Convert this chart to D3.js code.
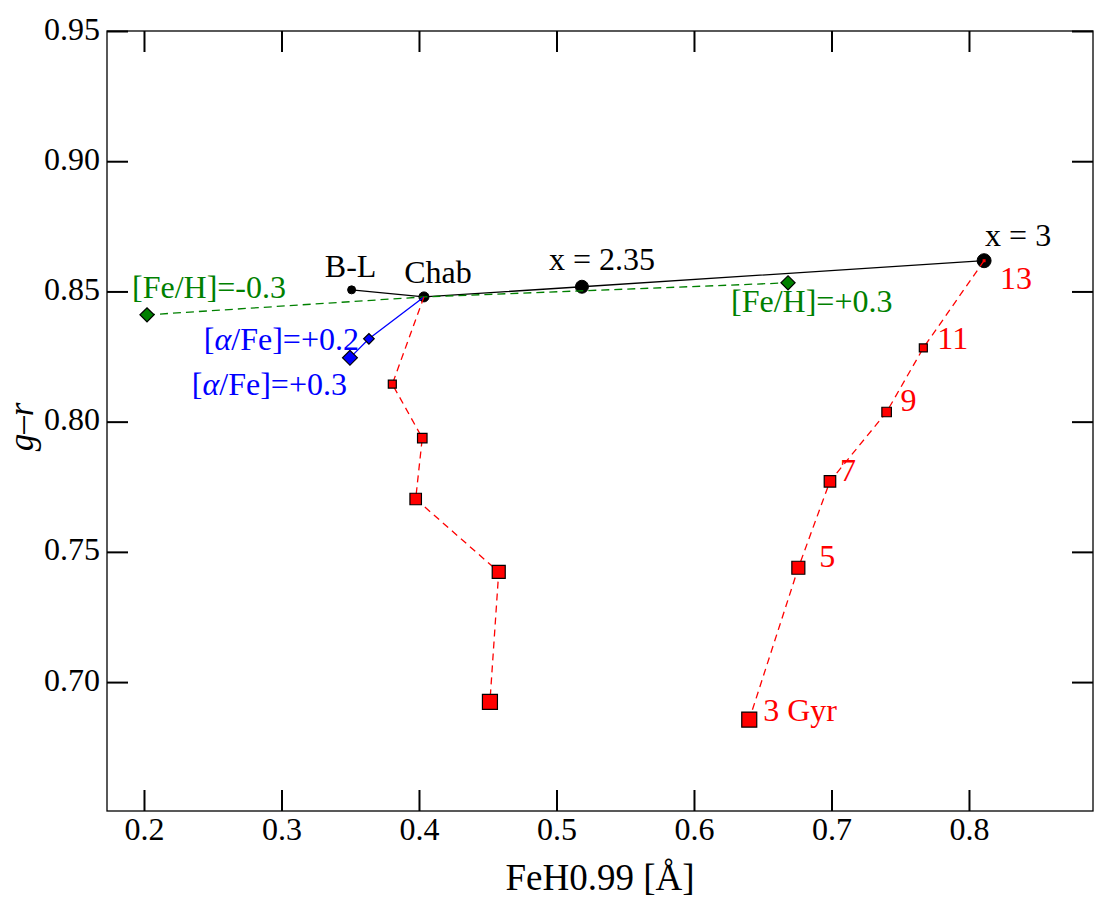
<!DOCTYPE html>
<html>
<head>
<meta charset="utf-8">
<script src="https://cdn.jsdelivr.net/npm/d3@7"></script>
<style>
  html, body { margin: 0; padding: 0; background: #fff; }
  svg { display: block; }
  svg text { font-family: "Liberation Serif", "Times New Roman", Times, serif !important; }
</style>
</head>
<body>
<svg id="chart" width="1107" height="904"></svg>
<script>
// ---------------- data ----------------
const imfLabels = ["B-L", "Chab", "x = 2.35", "x = 3"];
const imfFeH    = [0.351, 0.4036, 0.5185, 0.811];
const imfGR     = [0.8506, 0.8479, 0.8518, 0.8618];

const metLabels = ["[Fe/H]=-0.3", "Chab", "[Fe/H]=+0.3"];
const metFeH    = [0.2022, 0.4036, 0.6684];
const metGR     = [0.8410, 0.8479, 0.8533];

const alphaLabels = ["Chab", "[α/Fe]=+0.2", "[α/Fe]=+0.3"];
const alphaFeH    = [0.4036, 0.3636, 0.3498];
const alphaGR     = [0.8479, 0.8318, 0.8245];

const ages      = [13, 11, 9, 7, 5, 3];
const ageLabels = ["13", "11", "9", "7", "5", "3 Gyr"];
const chabAgeFeH = [0.4036, 0.3806, 0.4024, 0.3976, 0.4580, 0.4516];
const chabAgeGR  = [0.8479, 0.8144, 0.7937, 0.7703, 0.7423, 0.6924];
const x3AgeFeH   = [0.8110, 0.7668, 0.7401, 0.6989, 0.6759, 0.6402];
const x3AgeGR    = [0.8618, 0.8283, 0.8037, 0.7771, 0.7439, 0.6856];

const xTicks = [0.2, 0.3, 0.4, 0.5, 0.6, 0.7, 0.8];
const yTicks = [0.70, 0.75, 0.80, 0.85, 0.90, 0.95];
const xTickLabels = ["0.2", "0.3", "0.4", "0.5", "0.6", "0.7", "0.8"];
const yTickLabels = ["0.70", "0.75", "0.80", "0.85", "0.90", "0.95"];

// ---------------- layout ----------------
const L = 107, R = 1093, T = 31, B = 811;
const svg = d3.select("#chart");
const x = d3.scaleLinear().domain([0.1731, 0.8902]).range([L, R]);
const y = d3.scaleLinear().domain([0.6505, 0.95]).range([B, T]);

const fontTick = 32, fontAnn = 32, fontLab = 37;

// ---------------- axes ----------------
function styleAxis(g) {
  g.select(".domain").remove();
  g.attr("font-family", null);
  g.selectAll(".tick line").attr("stroke", "#000").attr("stroke-width", 2);
}
const gxB = svg.append("g").attr("transform", `translate(0,${B})`)
  .call(d3.axisBottom(x).tickValues(xTicks).tickSizeInner(-21).tickSizeOuter(0)
        .tickFormat((d, i) => xTickLabels[i]));
styleAxis(gxB);
gxB.selectAll(".tick text").attr("y", 29).attr("dy", 0)
  .attr("font-size", fontTick).attr("fill", "#000");

const gxT = svg.append("g").attr("transform", `translate(0,${T})`)
  .call(d3.axisTop(x).tickValues(xTicks).tickSizeInner(-21).tickSizeOuter(0).tickFormat(""));
styleAxis(gxT);

const gyL = svg.append("g").attr("transform", `translate(${L},0)`)
  .call(d3.axisLeft(y).tickValues(yTicks).tickSizeInner(-21).tickSizeOuter(0)
        .tickFormat((d, i) => yTickLabels[i]));
styleAxis(gyL);
gyL.selectAll(".tick text").attr("x", -7).attr("dy", 0).attr("y", 8)
  .attr("font-size", fontTick).attr("fill", "#000");

const gyR = svg.append("g").attr("transform", `translate(${R},0)`)
  .call(d3.axisRight(y).tickValues(yTicks).tickSizeInner(-21).tickSizeOuter(0).tickFormat(""));
styleAxis(gyR);

svg.append("rect").attr("x", L).attr("y", T).attr("width", R - L).attr("height", B - T)
  .attr("fill", "none").attr("stroke", "#000").attr("stroke-width", 1.3);

// axis labels
svg.append("text").attr("x", (L + R) / 2).attr("y", 890).attr("text-anchor", "middle")
  .attr("font-size", fontLab).text("FeH0.99 [Å]");
const yl = svg.append("text").attr("transform", `translate(33,427) rotate(-90)`)
  .attr("text-anchor", "middle").attr("font-size", 35);
yl.append("tspan").attr("font-style", "italic").text("g");
yl.append("tspan").text("–");
yl.append("tspan").attr("font-style", "italic").text("r");

// ---------------- helpers ----------------
const line = d3.line().x(d => x(d[0])).y(d => y(d[1]));
const zip = (a, b) => a.map((v, i) => [v, b[i]]);
const plot = svg.append("g");

function drawLine(pts, color, dash, w) {
  plot.append("path").attr("d", line(pts)).attr("fill", "none")
    .attr("stroke", color).attr("stroke-width", w || 1.3)
    .attr("stroke-dasharray", dash || null);
}
function square(px, py, s, fill) {
  plot.append("path").attr("d", d3.symbol(d3.symbolSquare, s * s)())
    .attr("transform", `translate(${x(px)},${y(py)})`)
    .attr("fill", fill).attr("stroke", "#000").attr("stroke-width", 1.2);
}
function diamond(px, py, s, fill) {
  plot.append("path").attr("d", d3.symbol(d3.symbolSquare, s * s)())
    .attr("transform", `translate(${x(px)},${y(py)}) rotate(45)`)
    .attr("fill", fill).attr("stroke", "#000").attr("stroke-width", 1.2);
}
function circle(px, py, r) {
  plot.append("circle").attr("cx", x(px)).attr("cy", y(py)).attr("r", r)
    .attr("fill", "#000").attr("stroke", "#000").attr("stroke-width", 1);
}
function label(px, py, dx, dy, txt, color, anchor) {
  const t = plot.append("text").attr("x", x(px) + dx).attr("y", y(py) + dy)
    .attr("fill", color).attr("font-size", fontAnn).attr("text-anchor", anchor || "start");
  if (txt.includes("α")) {
    const parts = txt.split("α");
    t.append("tspan").text(parts[0]);
    t.append("tspan").attr("font-style", "italic").text("α");
    t.append("tspan").text(parts[1]);
  } else t.text(txt);
}

// ---------------- IMF sequence (black) ----------------
drawLine(zip(imfFeH, imfGR), "#000", null, 1.3);
const imfR = [4, 5, 6.5, 7];
imfFeH.forEach((v, i) => circle(v, imfGR[i], imfR[i]));

// ---------------- metallicity (green dashed) ----------------
drawLine(zip(metFeH, metGR), "#008000", "8,5", 1.3);
diamond(metFeH[0], metGR[0], 10, "#008000");
diamond(metFeH[2], metGR[2], 10, "#008000");

// ---------------- alpha (blue) ----------------
drawLine(zip(alphaFeH, alphaGR), "#0000ff", null, 1.3);
diamond(alphaFeH[1], alphaGR[1], 7.5, "#0000ff");
diamond(alphaFeH[2], alphaGR[2], 10.5, "#0000ff");

// ---------------- age tracks (red dashed) ----------------
const ageSize = [3, 8, 9.5, 11.5, 13, 15];
drawLine(zip(chabAgeFeH, chabAgeGR), "#ff0000", "7,5", 1.3);
chabAgeFeH.forEach((v, i) => { if (i > 0) square(v, chabAgeGR[i], ageSize[i], "#ff0000"); });
drawLine(zip(x3AgeFeH, x3AgeGR), "#ff0000", "7,5", 1.3);
x3AgeFeH.forEach((v, i) => { if (i > 0) square(v, x3AgeGR[i], ageSize[i], "#ff0000"); });
plot.append("rect").attr("x", x(x3AgeFeH[0]) - 1.5).attr("y", y(x3AgeGR[0]) - 1.5)
  .attr("width", 3).attr("height", 3).attr("fill", "#ff0000");

// ---------------- annotations ----------------
label(imfFeH[0], imfGR[0], -1, -13, imfLabels[0], "#000", "middle");
label(imfFeH[1], imfGR[1], 14, -14, imfLabels[1], "#000", "middle");
label(imfFeH[2], imfGR[2], 20, -17, imfLabels[2], "#000", "middle");
label(imfFeH[3], imfGR[3], 1, -15, imfLabels[3], "#000", "start");

label(metFeH[0], metGR[0], -15, -17, metLabels[0], "#008000", "start");
label(metFeH[2], metGR[2], -57, 29, metLabels[2], "#008000", "start");

label(alphaFeH[1], alphaGR[1], -10, 11, alphaLabels[1], "#0000ff", "end");
label(alphaFeH[2], alphaGR[2], -3, 37, alphaLabels[2], "#0000ff", "end");

const ageDx = [16, 14, 14, 10, 21, 14];
const ageDy = [28, 1, -1, 0, -1, 1];
x3AgeFeH.forEach((v, i) => label(v, x3AgeGR[i], ageDx[i], ageDy[i], ageLabels[i], "#ff0000", "start"));
</script>
</body>
</html>
